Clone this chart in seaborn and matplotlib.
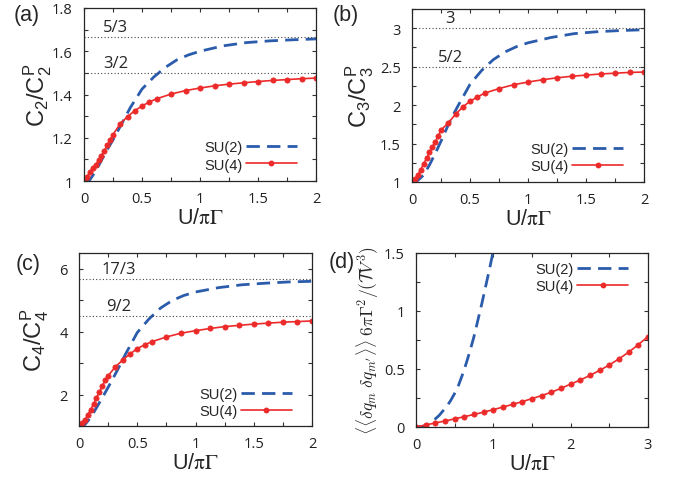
import numpy as np
import pandas as pd
import matplotlib
matplotlib.use("Agg")
import matplotlib.pyplot as plt
from matplotlib.ticker import MultipleLocator, FormatStrFormatter
from matplotlib.lines import Line2D
import seaborn as sns

# ---------------- data ----------------
# SU(2) dashed curves (x grid)
u_su2 = [0, 0.05, 0.1, 0.15, 0.2, 0.25, 0.3, 0.35, 0.4, 0.5, 0.6, 0.7, 0.8, 0.9,
         1.0, 1.2, 1.4, 1.6, 1.8, 2.0]
c2_su2 = [1.0, 1.005, 1.045, 1.095, 1.145, 1.19, 1.24, 1.29, 1.34, 1.425, 1.48,
          1.525, 1.56, 1.583, 1.6, 1.625, 1.64, 1.648, 1.653, 1.657]
c3_su2 = [1.0, 1.02, 1.09, 1.22, 1.37, 1.53, 1.70, 1.86, 2.0, 2.27, 2.45, 2.59,
          2.69, 2.76, 2.81, 2.88, 2.93, 2.955, 2.97, 2.98]
c4_su2 = [1.0, 1.04, 1.27, 1.58, 1.9, 2.23, 2.57, 2.92, 3.29, 3.97, 4.4, 4.75,
          4.99, 5.15, 5.26, 5.4, 5.49, 5.54, 5.58, 5.6]

# SU(4) curves with markers
u_su4 = [0, 0.025, 0.05, 0.075, 0.1, 0.125, 0.15, 0.175, 0.2, 0.225, 0.25,
         0.3125, 0.375, 0.4375, 0.5, 0.5625, 0.625, 0.75, 0.875, 1.0, 1.125,
         1.25, 1.375, 1.5, 1.625, 1.75, 1.875, 2.0]
c2_su4 = [1.0, 1.02, 1.04, 1.06, 1.075, 1.095, 1.117, 1.14, 1.165, 1.19, 1.215,
          1.265, 1.298, 1.325, 1.347, 1.365, 1.38, 1.402, 1.418, 1.43, 1.44,
          1.448, 1.454, 1.46, 1.465, 1.469, 1.473, 1.476]
c3_su4 = [1.0, 1.045, 1.09, 1.16, 1.235, 1.31, 1.385, 1.455, 1.52, 1.595, 1.675,
          1.77, 1.88, 1.975, 2.05, 2.105, 2.155, 2.215, 2.265, 2.3, 2.33,
          2.355, 2.375, 2.39, 2.405, 2.415, 2.425, 2.43]
c4_su4 = [1.0, 1.1, 1.2, 1.35, 1.52, 1.70, 1.9, 2.08, 2.27, 2.45, 2.6,
          2.88, 3.1, 3.29, 3.46, 3.58, 3.68, 3.83, 3.95, 4.03, 4.1,
          4.16, 4.2, 4.24, 4.27, 4.3, 4.32, 4.34]

# panel (d): charge correlator
u_d_su2 = [0, 0.05, 0.1, 0.15, 0.2, 0.25, 0.3, 0.35, 0.4, 0.45, 0.5, 0.55, 0.6,
           0.65, 0.7, 0.75, 0.8, 0.85, 0.9, 0.95, 1.0]
d_su2 = [0.0, 0.002, 0.008, 0.022, 0.045, 0.07, 0.10, 0.14, 0.18, 0.23, 0.29,
         0.36, 0.45, 0.55, 0.66, 0.78, 0.92, 1.06, 1.21, 1.36, 1.52]
u_d_su4 = [0, 0.125, 0.25, 0.375, 0.5, 0.625, 0.75, 0.875, 1.0, 1.125, 1.25,
           1.375, 1.5, 1.625, 1.75, 1.875, 2.0, 2.125, 2.25, 2.375, 2.5, 2.625,
           2.75, 2.875, 3.0]
d_su4 = [0.0, 0.017, 0.035, 0.052, 0.07, 0.089, 0.108, 0.128, 0.15, 0.172, 0.195,
         0.219, 0.245, 0.271, 0.30, 0.333, 0.37, 0.405, 0.445, 0.488, 0.535, 0.588,
         0.645, 0.71, 0.78]

# reference levels (value, label)
levels_a = [(5/3, "5/3"), (3/2, "3/2")]
levels_b = [(3.0, "3"), (5/2, "5/2")]
levels_c = [(17/3, "17/3"), (9/2, "9/2")]
level_label_x = {"a": 0.27, "b": 0.33, "c": 0.34}

series_names = ["SU(2)", "SU(4)"]
panel_tags = ["(a)", "(b)", "(c)", "(d)"]

# ---------------- style ----------------
sns.set_theme(style="ticks")
plt.rcParams["font.family"] = ["Liberation Sans", "DejaVu Sans"]
plt.rcParams["mathtext.default"] = "it"
plt.rcParams["axes.linewidth"] = 0.9

BLUE = "#2b5cab"
RED = "#ec2a2a"
TICKFONT = "Open Sans"

fig = plt.figure(figsize=(6.83, 4.85), dpi=100)
W, H = 683, 485


def px_axes(l, r, t, b):
    return fig.add_axes([l / W, 1 - b / H, (r - l) / W, (b - t) / H])


ax_a = px_axes(84, 316, 9, 182)
ax_b = px_axes(412, 644, 10, 183)
ax_c = px_axes(79, 312, 254, 427)
ax_d = px_axes(416, 648, 254, 428)


def draw(ax, x2, y2, x4, y4):
    sns.lineplot(x=x2, y=y2, ax=ax, color=BLUE, lw=2.0, estimator=None, sort=False)
    ax.lines[-1].set_dashes([4.8, 2.6])
    sns.lineplot(x=x4, y=y4, ax=ax, color=RED, lw=1.2, marker="o", markersize=3.8,
                 markeredgecolor=RED, markerfacecolor=RED, markeredgewidth=0.5,
                 estimator=None, sort=False)


def style(ax, xmaj, xmin, ymaj, ymin):
    ax.xaxis.set_major_locator(MultipleLocator(xmaj))
    ax.xaxis.set_minor_locator(MultipleLocator(xmin))
    ax.yaxis.set_major_locator(MultipleLocator(ymaj))
    ax.yaxis.set_minor_locator(MultipleLocator(ymin))
    ax.xaxis.set_major_formatter(FormatStrFormatter("%g"))
    ax.yaxis.set_major_formatter(FormatStrFormatter("%g"))
    ax.tick_params(which="both", direction="in", top=True, right=True,
                   length=3.2, width=0.8, color="#333333")
    ax.tick_params(axis="y", which="major", pad=8, labelsize=10.5, labelcolor="#222222")
    ax.tick_params(axis="x", which="major", pad=7, labelsize=10.5, labelcolor="#222222")
    for lab in ax.get_xticklabels() + ax.get_yticklabels():
        lab.set_family(TICKFONT)
    ax.set_xlabel(r"U/$\mathrm{\pi\Gamma}$", fontsize=15.5, labelpad=1,
                  math_fontfamily="stix")


def ref_lines(ax, levels, xl):
    for val, lab in levels:
        ax.axhline(val, color="#444444", lw=0.8, dashes=(1, 2))
        ax.annotate(lab, xy=(xl, val), xytext=(0, 1.5), textcoords="offset points",
                    ha="center", va="bottom", fontsize=12, family=TICKFONT)


def legend(ax, x, y):
    handles = [
        Line2D([], [], color=BLUE, lw=2.0, dashes=[4.8, 2.6]),
        Line2D([], [], color=RED, lw=1.2, marker="o", markersize=3.2,
               markeredgecolor=RED),
    ]
    ax.legend(handles, series_names, loc="center right", bbox_to_anchor=(x, y),
              markerfirst=False, frameon=False, fontsize=10.5, handlelength=3.5,
              handletextpad=0.25, labelspacing=0.22, borderpad=0, borderaxespad=0)


def ylab(ax, n):
    ax.set_ylabel("C$_\\mathregular{%d}$/C$_\\mathregular{%d}^\\mathregular{P}$" % (n, n),
                  fontsize=17)


# (a)
draw(ax_a, u_su2, c2_su2, u_su4, c2_su4)
ax_a.set_xlim(0, 2)
ax_a.set_ylim(1, 1.8)
style(ax_a, 0.5, 0.25, 0.2, 0.1)
ref_lines(ax_a, levels_a, level_label_x["a"])
ylab(ax_a, 2)
legend(ax_a, 0.918, 0.145)

# (b)
draw(ax_b, u_su2, c3_su2, u_su4, c3_su4)
ax_b.set_xlim(0, 2)
ax_b.set_ylim(1, 3.25)
style(ax_b, 0.5, 0.25, 0.5, 0.25)
ref_lines(ax_b, levels_b, level_label_x["b"])
ylab(ax_b, 3)
legend(ax_b, 0.91, 0.14)

# (c)
draw(ax_c, u_su2, c4_su2, u_su4, c4_su4)
ax_c.set_xlim(0, 2)
ax_c.set_ylim(1, 6.5)
style(ax_c, 0.5, 0.25, 2, 1)
ref_lines(ax_c, levels_c, level_label_x["c"])
ylab(ax_c, 4)
legend(ax_c, 0.914, 0.136)

# (d)
draw(ax_d, u_d_su2, d_su2, u_d_su4, d_su4)
ax_d.set_xlim(0, 3)
ax_d.set_ylim(0, 1.5)
style(ax_d, 1, 0.5, 0.5, 0.25)
ax_d.set_ylabel(r"$\langle\langle\delta q_m\;\delta q_{m'}\rangle\rangle\;6\pi\Gamma^2/(\mathcal{T}V^3)$",
                fontsize=12.5, math_fontfamily="cm")
legend(ax_d, 0.914, 0.859)

ax_a.yaxis.set_label_coords(-0.13, 0.5)
ax_b.yaxis.set_label_coords(-0.155, 0.5)
ax_c.yaxis.set_label_coords(-0.12, 0.5)
ax_d.yaxis.set_label_coords(-0.15, 0.5)

# panel tags
tag_pos = [(14, 15), (333, 15), (16, 265), (329, 263)]
for tag, (px, py) in zip(panel_tags, tag_pos):
    fig.text(px / W, 1 - py / H, tag, fontsize=15.5, ha="left", va="center")

fig.savefig("out.png", dpi=100)
